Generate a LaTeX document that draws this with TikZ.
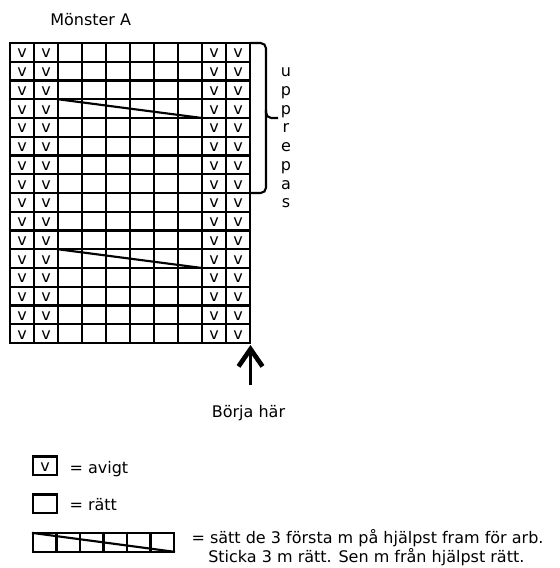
\documentclass[tikz,border=0pt]{standalone}
\usepackage{fontspec}
\setmainfont{DejaVu Sans}
\usetikzlibrary{arrows.meta}

\begin{document}
\begin{tikzpicture}[x=0.75pt,y=-0.75pt,
    gridline/.style={line width=1.6pt, line cap=rect},
    txt/.style={inner sep=0pt, font=\fontsize{12}{14}\selectfont}]
  \useasboundingbox[fill=white] (0,0) rectangle (560,568);
  \coordinate (nw) at (10,43);
  \coordinate (se) at (250,343);
  % grid
  \foreach \r in {0,...,16}
    \draw[gridline] (10,43+18.75*\r) -- (250,43+18.75*\r);
  \foreach \c in {0,...,10}
    \draw[gridline] (10+24*\c,43) -- (10+24*\c,343);
  \foreach \r in {0,...,15}
    \foreach \c in {0,1,8,9}
      \node[txt] (v-\r-\c) at (22+24*\c,53.5+18.75*\r) {v};
  % cables
  \draw[gridline] (58,99.25) -- (202,118);
  \draw[gridline] (58,249.25) -- (202,268);
  % bracket
  \draw[gridline, line cap=butt, rounded corners=4pt] (nw -| se) -| (266,118) -- (278,118);
  \draw[gridline, line cap=butt, rounded corners=4pt] (266,110) |- (251,193);
  \foreach \l [count=\i from 0] in {u,p,p,r,e,p,a,s}
    \node[txt, anchor=base] (rep\i) at (286,76.7+18.75*\i) {\l};
  % start
  \coordinate (start) at (250.5,385);
  \coordinate (tip) at (250.5,345);
  \draw[line width=1.6pt, -{Straight Barb[length=13pt, width=18pt, line width=3.5pt]}] (start) -- (tip);
  \node[txt, anchor=base] (borja) at (248.5,417) {Börja här};
  \node[txt, anchor=base west] (title) at (50,25.5) {Mönster A};
  % legend
  \draw[gridline] (33,456.5) rectangle (57,475.25);
  \node[txt] (leg-v) at (45,467) {v};
  \node[txt, anchor=base west] (leg-avigt) at (69.3,473) {= avigt};
  \draw[gridline] (33,494.5) rectangle (57,513.25);
  \node[txt, anchor=base west] (leg-ratt) at (69.3,510.5) {= rätt};
  \draw[gridline] (33,533) rectangle (174,551.75);
  \foreach \k in {1,...,5}
    \draw[gridline] (33+23.5*\k,533) -- (33+23.5*\k,551.75);
  \draw[gridline] (33,533) -- (174,551.75);
  \node[txt, anchor=base west] (leg-cable1) at (191.3,543.5) {= sätt de 3 första m på hjälpst fram för arb.};
  \node[txt, anchor=base west] (leg-cable2) at (208,562) {Sticka 3 m rätt. Sen m från hjälpst rätt.};
\end{tikzpicture}
\end{document}
